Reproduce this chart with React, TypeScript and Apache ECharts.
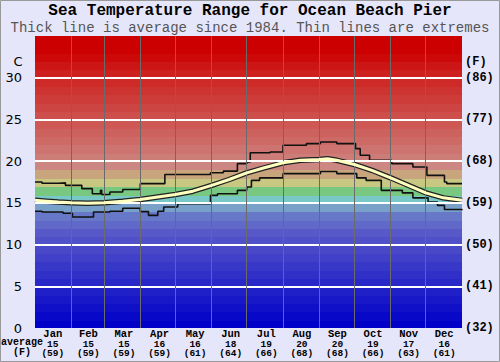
import React, { useEffect, useRef } from "react";
import * as echarts from "echarts";

// Month labels and monthly averages
const months = ["Jan", "Feb", "Mar", "Apr", "May", "Jun", "Jul", "Aug", "Sep", "Oct", "Nov", "Dec"];
const monthAvgC = [15, 15, 15, 16, 16, 18, 19, 20, 20, 19, 17, 16];
const monthAvgF = [59, 59, 59, 59, 61, 64, 66, 68, 68, 66, 63, 61];
const monthStartDays = [31, 59, 90, 120, 151, 181, 212, 243, 273, 304, 334];

// Y ticks
const cTicks = [0, 5, 10, 15, 20, 25, 30];
const fTicks = ["(32)", "(41)", "(50)", "(59)", "(68)", "(77)", "(86)"];

// Maximum (day of year, °C)
const maxDays = [0, 6, 20, 26, 40, 49, 56, 57, 64, 75, 90, 111, 150, 161, 173, 181, 184, 201, 212, 232, 244, 258, 274, 278, 286, 305, 323, 335, 350, 352, 365];
const maxTemps = [17.5, 17.35, 17.4, 17.1, 16.7, 16.1, 16.5, 16.0, 16.3, 16.6, 17.3, 18.4, 18.6, 18.8, 19.7, 19.9, 21.0, 21.1, 21.9, 22.1, 22.3, 22.1, 21.5, 20.7, 20.1, 19.7, 19.3, 18.3, 17.5, 17.3, 17.3];

// Average
const avgDays = [0, 10, 20, 31, 45, 59, 75, 90, 105, 120, 135, 151, 166, 181, 196, 212, 227, 243, 250, 258, 273, 288, 304, 319, 334, 349, 365];
const avgTemps = [15.3, 15.2, 15.1, 15.0, 14.95, 15.0, 15.2, 15.4, 15.7, 16.0, 16.4, 17.1, 17.8, 18.6, 19.2, 19.8, 20.1, 20.2, 20.3, 20.1, 19.6, 18.9, 18.0, 17.1, 16.2, 15.6, 15.3];

// Minimum
const minDays = [0, 6, 24, 32, 50, 64, 75, 90, 97, 105, 110, 122, 150, 156, 173, 181, 185, 192, 212, 244, 258, 275, 283, 296, 314, 323, 336, 344, 350, 365];
const minTemps = [14.0, 13.9, 13.75, 13.3, 13.9, 14.0, 14.35, 13.95, 13.5, 14.0, 14.5, 14.9, 15.9, 16.1, 16.5, 16.9, 17.7, 18.0, 18.5, 18.75, 18.5, 18.0, 17.7, 16.5, 16.2, 15.6, 15.1, 14.7, 14.2, 14.1];

// Background band colours, one per degree from 0 to 35
const bandColors = [
  "#0000c8", "#0808c8", "#1010c8", "#1818c8", "#2020c8", "#2828c8", "#3030c8", "#3838c8",
  "#4040c8", "#4848c8", "#5050c8", "#5858c8", "#6068c8", "#6878c8", "#78a0c8", "#78c8c8",
  "#78c882", "#c8c882", "#c8a57d", "#cd8782", "#cd7d78", "#cd7470", "#cd6a66", "#cd615d",
  "#cd5854", "#cd4e4b", "#cd4542", "#cd3c39", "#cd3330", "#cd2a28", "#cd201f", "#cc1616",
  "#cc0808", "#cc0000", "#cc0000",
];

const zip = (xs: number[], ys: number[]) => xs.map((x, i) => [x, ys[i]]);

export default function App() {
  const ref = useRef<HTMLDivElement>(null);
  useEffect(() => {
    const chart = echarts.init(ref.current!, null, { renderer: "svg" });
    const mono = "'Liberation Mono', 'Courier New', monospace";
    chart.setOption({
      animation: false,
      backgroundColor: "#e6e6fa",
      grid: { left: 35, right: 38, top: 36, bottom: 34 },
      xAxis: [
        { type: "value", min: 0, max: 365, show: false },
        {
          type: "category",
          data: months,
          position: "bottom",
          axisLine: { show: false },
          axisTick: { show: false },
          splitLine: { show: false },
          axisLabel: {
            margin: 1,
            interval: 0,
            formatter: (v: string, i: number) => `{m|${v}}\n{v|${monthAvgC[i]}}\n{v|(${monthAvgF[i]})}`,
            rich: {
              m: { fontFamily: mono, fontWeight: "bold", fontSize: 10.5, lineHeight: 10.5, color: "#000" },
              v: { fontFamily: mono, fontWeight: "bold", fontSize: 9.5, lineHeight: 9.5, color: "#000" },
            },
          },
        },
      ],
      yAxis: [
        {
          type: "value", min: 0, max: 35, interval: 5, position: "left",
          axisLine: { show: false }, axisTick: { show: false }, splitLine: { show: false },
          axisLabel: {
            margin: 13, fontFamily: "'DejaVu Sans', Verdana, sans-serif", fontSize: 13, color: "#000",
            formatter: (v: number) => { const i = cTicks.indexOf(v); return i >= 0 ? String(cTicks[i]) : ""; },
          },
        },
        {
          type: "value", min: 0, max: 35, interval: 5, position: "right",
          axisLine: { show: false }, axisTick: { show: false }, splitLine: { show: false },
          axisLabel: {
            margin: 3, fontFamily: mono, fontWeight: "bold", fontSize: 12, color: "#000",
            formatter: (v: number) => { const i = cTicks.indexOf(v); return i >= 0 ? fTicks[i] : ""; },
          },
        },
      ],
      graphic: [
        { type: "text", left: "center", top: 3, style: { text: "Sea Temperature Range for Ocean Beach Pier", font: `bold 16px ${mono}`, fill: "#000" } },
        { type: "text", left: "center", top: 21, style: { text: "Thick line is average since 1984. Thin lines are extremes", font: `14px ${mono}`, fill: "#555" } },
        { type: "text", x: 18, y: 61, style: { text: "C", font: "13px 'DejaVu Sans', sans-serif", fill: "#000", align: "center", verticalAlign: "middle" } },
        { type: "text", x: 465, y: 62, style: { text: "(F)", font: `bold 12px ${mono}`, fill: "#000", align: "left", verticalAlign: "middle" } },
        { type: "text", x: 22, y: 342, style: { text: "average", font: `bold 10px ${mono}`, fill: "#000", align: "center", verticalAlign: "middle" } },
        { type: "text", x: 22, y: 352.5, style: { text: "(F)", font: `bold 10px ${mono}`, fill: "#000", align: "center", verticalAlign: "middle" } },
        { type: "rect", shape: { x: 0.5, y: 0.5, width: 499, height: 361 }, style: { fill: "none", stroke: "#999", lineWidth: 1 }, silent: true },
      ],
      series: [
        {
          type: "custom", z: 1, silent: true,
          xAxisIndex: 0, yAxisIndex: 0,
          data: bandColors.map((_, i) => [0, i]),
          renderItem: (params: any, api: any) => {
            const i = api.value(1);
            const pLow = api.coord([0, i]);
            const pHigh = api.coord([365, i + 1]);
            const yTop = Math.round(pHigh[1]);
            const yBot = Math.round(pLow[1]);
            const extra = i > 0 ? 1 : 0;
            return {
              type: "rect",
              shape: { x: pLow[0], y: yTop, width: pHigh[0] - pLow[0], height: yBot - yTop + extra },
              style: { fill: bandColors[i], stroke: null },
              z2: i,
            };
          },
        },
        {
          type: "line", z: 2, data: [], silent: true, symbol: "none",
          markLine: {
            silent: true, symbol: "none", label: { show: false },
            data: [
              ...cTicks.filter((v) => v > 0).map((v) => ({ yAxis: v, lineStyle: { color: "#ffffff", width: 2, type: "solid" } })),
              ...monthStartDays.map((d) => ({ xAxis: d, lineStyle: { color: "#6a6a6a", width: 1, type: "solid" } })),
            ],
          },
        },
        {
          type: "line", z: 3, data: zip(maxDays, maxTemps), step: "end", symbol: "none",
          lineStyle: { color: "#111", width: 1.6 },
        },
        {
          type: "line", z: 3, data: zip(minDays, minTemps), step: "end", symbol: "none",
          lineStyle: { color: "#111", width: 1.6 },
        },
        {
          type: "line", z: 4, data: zip(avgDays, avgTemps), symbol: "none",
          lineStyle: { color: "#222", width: 5.5 },
        },
        {
          type: "line", z: 5, data: zip(avgDays, avgTemps), symbol: "none",
          lineStyle: { color: "#ffffc0", width: 3 },
        },
      ],
    });
    return () => chart.dispose();
  }, []);
  return <div ref={ref} style={{ position: "fixed", left: 0, top: 0, width: 500, height: 362 }} />;
}
